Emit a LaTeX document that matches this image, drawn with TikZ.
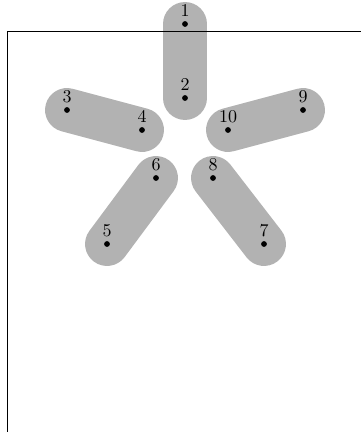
\documentclass[tikz,border=0pt]{standalone}
\begin{document}
\begin{tikzpicture}[x=0.5556pt,y=-0.5556pt,
  dot/.style={circle,fill=black,inner sep=0pt,minimum size=3.2pt},
  lab/.style={inner sep=1pt,label distance=1.2pt},
  hedge/.style={line width=24.4pt,line cap=round,draw=black!30},
  frame/.style={line width=0.5pt,draw=black}]
\useasboundingbox (0,0) rectangle (361,432);
\coordinate (c1) at (185,24);
\coordinate (c2) at (185,98);
\coordinate (c3) at (67,110);
\coordinate (c4) at (142,130);
\coordinate (c5) at (107,244);
\coordinate (c6) at (156,178);
\coordinate (c7) at (264,244);
\coordinate (c8) at (213,178);
\coordinate (c9) at (303,110);
\coordinate (c10) at (228,130);
\draw[hedge] (c1) -- (c2);
\draw[hedge] (c3) -- (c4);
\draw[hedge] (c5) -- (c6);
\draw[hedge] (c7) -- (c8);
\draw[hedge] (c9) -- (c10);
\coordinate (fa) at (7,440);
\coordinate (fb) at (7,31);
\coordinate (fc) at (370,31);
\draw[frame] (fa) -- (fb) -- (fc);
\foreach \i in {1,...,10}{
  \node[dot,label={[lab]above:\i}] (p\i) at (c\i) {};
}
\end{tikzpicture}
\end{document}
